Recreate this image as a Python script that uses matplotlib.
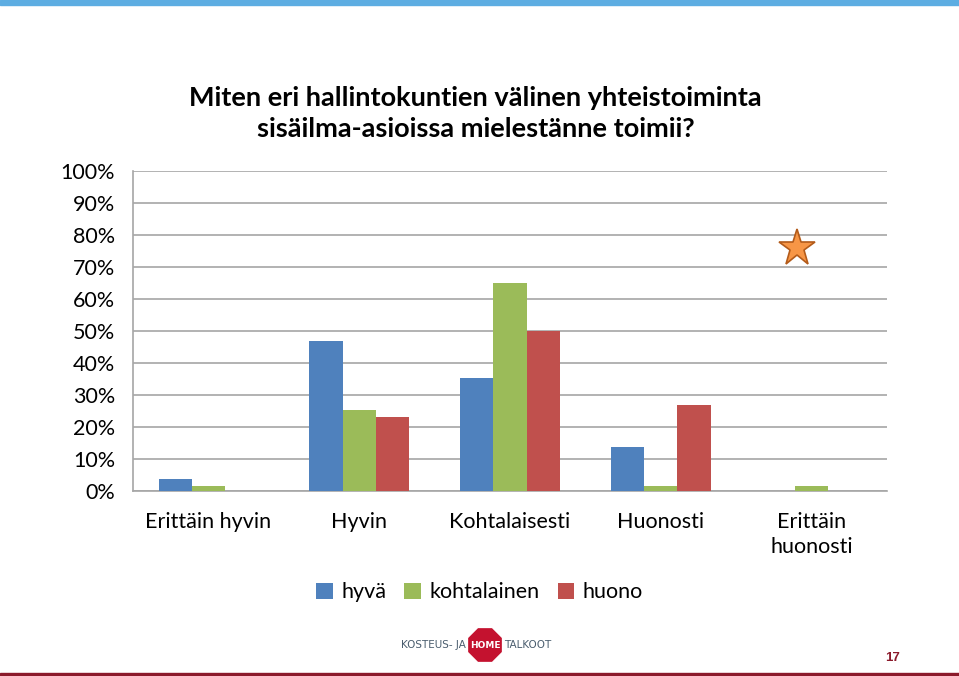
import matplotlib.pyplot as plt
import numpy as np
from matplotlib.patches import RegularPolygon, Rectangle
from matplotlib import font_manager

plt.rcParams['font.family'] = ['Lato', 'DejaVu Sans']

# Data (percent of answers)
categories = ["Erittäin hyvin", "Hyvin", "Kohtalaisesti", "Huonosti", "Erittäin\nhuonosti"]
series_names = ["hyvä", "kohtalainen", "huono"]
hyva = [3.8, 47.0, 35.3, 13.6, 0.0]
kohtalainen = [1.4, 25.2, 65.0, 1.4, 1.4]
huono = [0.0, 23.0, 50.0, 26.8, 0.0]
colors = ["#4f81bd", "#9bbb59", "#c0504d"]
title = "Miten eri hallintokuntien välinen yhteistoiminta\nsisäilma-asioissa mielestänne toimii?"

fig = plt.figure(figsize=(9.59, 6.76), dpi=100)
ax = fig.add_axes([0.1387, 0.2737, 0.7862, 0.4733])

x = np.arange(len(categories))
w = 0.22
for i, (vals, name) in enumerate(zip([hyva, kohtalainen, huono], series_names)):
    ax.bar(x + (i - 1) * w, vals, width=w, color=colors[i], label=name, zorder=3)

ax.set_xlim(-0.5, len(categories) - 0.5)
ax.set_ylim(0, 100)
ax.set_yticks(range(0, 101, 10))
ax.set_yticklabels([f"{v}%" for v in range(0, 101, 10)], fontsize=15.5)
ax.set_xticks(x)
ax.set_xticklabels(categories, fontsize=15.5, linespacing=1.3)
ax.tick_params(axis='y', length=0, pad=13)
ax.tick_params(axis='x', length=0, pad=15)
ax.grid(axis='y', color='#a6a6a6', linewidth=1.2, zorder=0)
for s in ['top', 'right']:
    ax.spines[s].set_visible(False)
for s in ['left', 'bottom']:
    ax.spines[s].set_color('#a6a6a6')
    ax.spines[s].set_linewidth(1.2)

# star marker in the chart area
ax.plot([3.9], [75.8], marker='*', markersize=28, color='#f79646',
        markeredgecolor='#b35b1a', markeredgewidth=1.2, zorder=5, clip_on=False)

fig.text(0.496, 0.832, title, ha='center', va='center', fontsize=19.5,
         fontweight='bold', linespacing=1.38)

fig.legend(loc='center', bbox_to_anchor=(0.5, 0.124), ncol=3, frameon=False,
           fontsize=15.5, handlelength=0.75, handleheight=0.75, handletextpad=0.4,
           columnspacing=0.85)

# slide decorations
fig.add_artist(Rectangle((0, 0.993), 1, 0.007, transform=fig.transFigure,
                         color='#5dade2', zorder=10))
fig.add_artist(Rectangle((0, 0.0), 1, 0.004, transform=fig.transFigure,
                         color='#8b1a2b', zorder=10))

names = {f.name for f in font_manager.fontManager.ttflist}
logo_font = 'Liberation Sans Narrow' if 'Liberation Sans Narrow' in names else 'DejaVu Sans'
logo_size = 10 if logo_font == 'Liberation Sans Narrow' else 7.5

fig.text(4.655, 0.31, "KOSTEUS- JA", ha='right', va='center', fontsize=logo_size,
         color='#4a5d6e', family=logo_font, transform=fig.dpi_scale_trans)
fig.add_artist(RegularPolygon((4.85, 0.31), 8, radius=0.19, orientation=np.pi / 8,
                              transform=fig.dpi_scale_trans, color='#c4122f',
                              ec='white', lw=1.0))
fig.text(4.85, 0.31, "HOME", ha='center', va='center', fontsize=logo_size - 1,
         color='white', fontweight='bold', family=logo_font,
         transform=fig.dpi_scale_trans)
fig.text(5.045, 0.31, "TALKOOT", ha='left', va='center', fontsize=logo_size,
         color='#4a5d6e', family=logo_font, transform=fig.dpi_scale_trans)
fig.text(0.931, 0.026, "17", ha='center', va='center', fontsize=9.5,
         color='#8b1a2b', fontweight='bold', family='Liberation Sans')

fig.savefig("out.png", dpi=100)
